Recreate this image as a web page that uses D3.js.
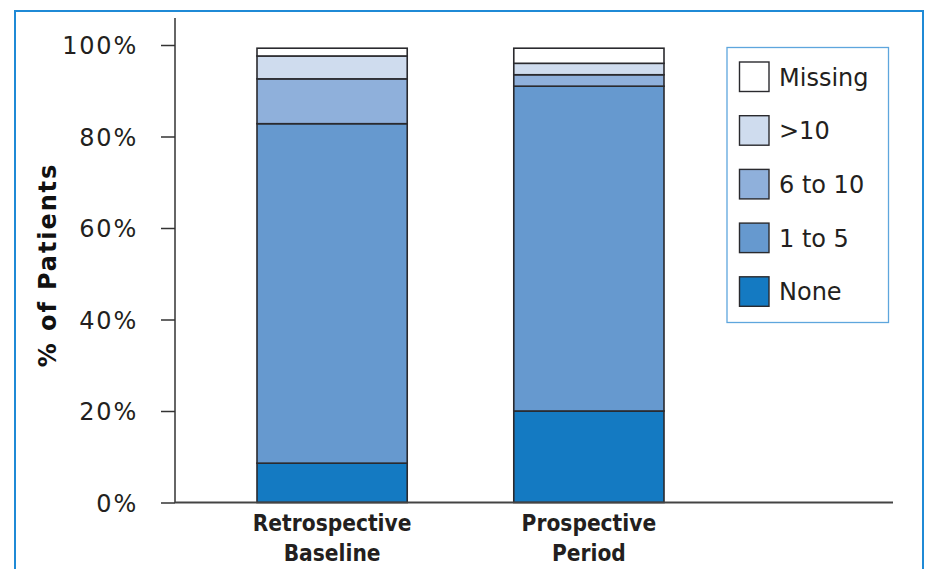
<!DOCTYPE html>
<html>
<head>
<meta charset="utf-8">
<script src="https://cdn.jsdelivr.net/npm/d3@7"></script>
<style>
  html, body { margin: 0; padding: 0; background: #fff; }
  svg { display: block; }
</style>
</head>
<body>
<svg id="chart" width="927" height="569"></svg>
<script>
// ---- data ----
const categories = ["Retrospective Baseline", "Prospective Period"];
const categoryLines = [["Retrospective", "Baseline"], ["Prospective", "Period"]];
const seriesNames = ["None", "1 to 5", "6 to 10", ">10", "Missing"];
const noneValues    = [8.6, 20.0];
const oneToFive     = [74.2, 71.0];
const sixToTen      = [9.8, 2.5];
const moreThanTen   = [5.0, 2.5];
const missingValues = [1.7, 3.3];
const yTicks = [0, 20, 40, 60, 80, 100];
const yTickLabels = ["0%", "20%", "40%", "60%", "80%", "100%"];
const yAxisTitle = "% of Patients";
const legendOrder = ["Missing", ">10", "6 to 10", "1 to 5", "None"];
const colors = ["#147ac2", "#6699cf", "#8fb0db", "#cfdcee", "#ffffff"];

const seriesValues = [noneValues, oneToFive, sixToTen, moreThanTen, missingValues];
const rows = categories.map((c, i) => {
  const r = { category: c };
  seriesNames.forEach((s, k) => { r[s] = seriesValues[k][i]; });
  return r;
});

const svg = d3.select("#chart");
const ink = "#231f20";

// outer frame
svg.append("rect")
  .attr("x", 15).attr("y", 11).attr("width", 908).attr("height", 570)
  .attr("fill", "none").attr("stroke", "#1f8ad6").attr("stroke-width", 2);

const y = d3.scaleLinear().domain([0, 100]).range([502.5, 45]);
const x = d3.scaleBand().domain(categories).range([257, 664])
  .paddingInner(0.415).paddingOuter(0);
const color = d3.scaleOrdinal().domain(seriesNames).range(colors);

const stack = d3.stack().keys(seriesNames);
const stacked = stack(rows);

// bars
const g = svg.append("g");
stacked.forEach(layer => {
  g.selectAll(null).data(layer).enter().append("rect")
    .attr("x", d => x(d.data.category))
    .attr("width", x.bandwidth())
    .attr("y", d => y(d[1]))
    .attr("height", d => y(d[0]) - y(d[1]))
    .attr("fill", color(layer.key))
    .attr("stroke", "#2a2a2e")
    .attr("stroke-width", 1.6);
});

// y axis
const yAxis = d3.axisLeft(y).tickValues(yTicks)
  .tickFormat((d, i) => yTickLabels[i]).tickSize(14).tickPadding(23);
const ya = svg.append("g").attr("transform", "translate(175,0)").call(yAxis);
ya.select(".domain").remove();
ya.selectAll(".tick line").attr("stroke", "#333").attr("stroke-width", 1.5);
ya.selectAll(".tick text")
  .attr("fill", ink)
  .style("font-family", "'DejaVu Sans', Verdana, sans-serif")
  .style("font-size", "24px")
  .style("letter-spacing", "1.8px")
  .attr("dy", "0.36em");
svg.append("line")
  .attr("x1", 175).attr("x2", 175).attr("y1", 18).attr("y2", 503)
  .attr("stroke", "#333").attr("stroke-width", 1.5);

// x axis line
svg.append("line")
  .attr("x1", 175).attr("x2", 893).attr("y1", y(0)).attr("y2", y(0))
  .attr("stroke", "#444").attr("stroke-width", 2.2);

// x labels
categories.forEach((c, i) => {
  const t = svg.append("text")
    .attr("x", x(c) + x.bandwidth() / 2)
    .attr("text-anchor", "middle")
    .attr("fill", ink)
    .style("font-family", "'DejaVu Sans Condensed', 'DejaVu Sans', sans-serif")
    .style("font-weight", "bold")
    .style("font-size", "22.5px");
  categoryLines[i].forEach((ln, k) => {
    t.append("tspan").attr("x", x(c) + x.bandwidth() / 2)
      .attr("y", 530.5 + k * 30).text(ln);
  });
});

// y axis title
svg.append("text")
  .attr("transform", "translate(56,265) rotate(-90)")
  .attr("text-anchor", "middle")
  .attr("fill", "#111")
  .style("font-family", "'DejaVu Sans', sans-serif")
  .style("font-weight", "bold")
  .style("font-size", "24px")
  .style("letter-spacing", "1.9px")
  .text(yAxisTitle);

// legend
const lg = svg.append("g");
lg.append("rect")
  .attr("x", 727).attr("y", 47.5).attr("width", 161.5).attr("height", 275)
  .attr("fill", "#fff").attr("stroke", "#5ea6dd").attr("stroke-width", 1.3);
legendOrder.forEach((name, i) => {
  const yy = 62 + i * 53.7;
  lg.append("rect")
    .attr("x", 739.5).attr("y", yy).attr("width", 29.5).attr("height", 29.5)
    .attr("fill", color(name)).attr("stroke", "#2a2a2e").attr("stroke-width", 1.4);
  lg.append("text")
    .attr("x", 779).attr("y", yy + 15).attr("dy", "0.36em")
    .attr("fill", ink)
    .style("font-family", "'DejaVu Sans', Verdana, sans-serif")
    .style("font-size", "24px")
    .text(name);
});
</script>
</body>
</html>
